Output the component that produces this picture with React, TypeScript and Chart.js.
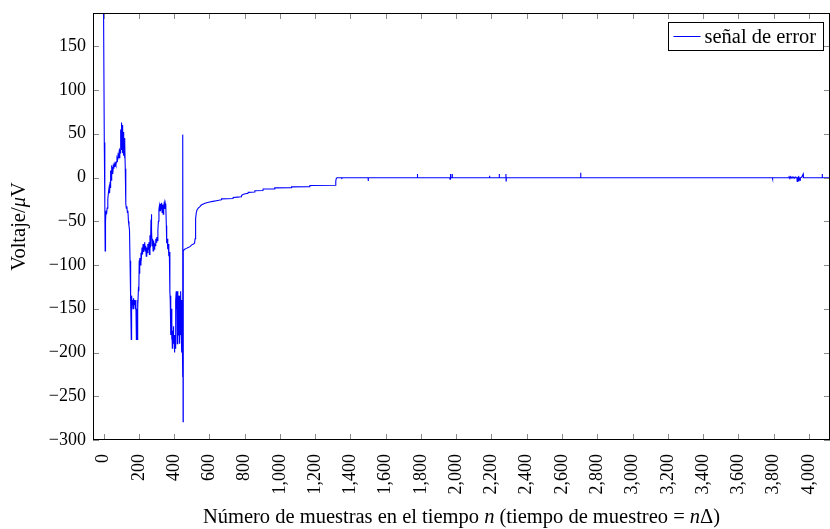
import { useEffect, useRef } from "react";
import { Chart, registerables } from "chart.js";

Chart.register(...registerables);

// Error signal: sample index n and voltage in µV
const sampleN = [
  0, 4, 7, 9, 11, 14, 17, 20, 24, 28, 31, 34, 37, 39, 41, 43, 45, 47, 49, 52,
  55, 58, 61, 64, 67, 70, 73, 76, 79, 82, 85, 88, 91, 93, 95, 97, 99, 101, 103, 105,
  107, 109, 111, 113, 115, 117, 119, 121, 123, 125, 127, 129, 132, 135, 138, 141, 144, 147, 149, 150,
  152, 155, 157, 159, 162, 164, 167, 170, 173, 176, 180, 183, 186, 188, 190, 192, 195, 198, 200, 202,
  204, 206, 209, 212, 215, 218, 221, 224, 227, 230, 233, 236, 239, 242, 245, 248, 251, 254, 257, 260,
  263, 266, 269, 271, 273, 275, 278, 281, 284, 287, 290, 293, 296, 299, 302, 305, 308, 311, 314, 317,
  320, 323, 326, 329, 332, 335, 338, 341, 344, 347, 350, 353, 356, 358, 361, 364, 367, 370, 373, 376,
  378, 380, 382, 384, 386, 388, 390, 392, 394, 396, 398, 400, 402, 404, 406, 408, 410, 412, 414, 416,
  418, 420, 422, 424, 426, 428, 430, 432, 434, 436, 438, 440, 442, 444, 446, 448, 449, 450, 451, 452,
  460, 470, 480, 490, 500, 510, 516, 519, 521, 523, 526, 530, 537, 545, 554, 575, 601, 620, 640, 668,
  669, 734, 735, 760, 781, 782, 790, 805, 819, 820, 857, 858, 904, 905, 970, 971, 1065, 1066, 1169, 1170,
  1314, 1317, 1320, 1324, 1350, 1351, 1352, 1500, 1501, 1502, 1779, 1780, 1781, 1964, 1965, 1966, 1968, 1969, 1976, 1977,
  1978, 2188, 2189, 2190, 2243, 2244, 2245, 2281, 2282, 2283, 2284, 2705, 2706, 2707, 3793, 3794, 3795, 3886, 3888, 3892,
  3896, 3900, 3905, 3910, 3915, 3920, 3925, 3932, 3934, 3936, 3940, 3943, 3945, 3950, 3952, 3960, 3968, 3969, 4075, 4076,
  4077, 4120,
];

const errorUV = [
  188, 40, -30, -84, -50, -38, -42, -35, -25, -16, -12, -18, -5, -12, 8, -3, 14, 2, 12, 4,
  13, 10, 15, 12, 16, 14, 18, 22, 20, 26, 24, 29, 22, 30, 28, 55, 32, 63, 35, 60,
  28, 58, 30, 52, 25, 45, 22, 40, 10, -5, -30, -35, -33, -40, -38, -50, -55, -60, -60, -95,
  -130, -140, -185, -135, -145, -140, -150, -138, -145, -140, -150, -140, -185, -150, -185, -140, -150, -125, -130, -95,
  -110, -92, -100, -86, -90, -80, -88, -76, -85, -80, -74, -84, -78, -90, -80, -86, -76, -82, -74, -88,
  -66, -80, -48, -42, -60, -78, -70, -84, -72, -82, -75, -78, -70, -74, -68, -72, -60, -50, -36, -32,
  -38, -30, -36, -29, -40, -31, -42, -33, -29, -36, -30, -34, -55, -75, -70, -82, -76, -90, -85, -130,
  -140, -135, -180, -150, -185, -165, -195, -175, -185, -170, -190, -180, -200, -182, -195, -175, -140, -130, -150, -135,
  -190, -140, -130, -180, -135, -155, -135, -190, -145, -180, -130, -170, -140, -200, -175, -228, -150, 49, -279, -84,
  -82, -81, -80, -79, -77, -76, -75, -70, -58, -47, -40, -37, -35, -33.5, -31.5, -29.5, -28, -27.3, -26.5, -25.5,
  -24.4, -24, -22.8, -22.4, -22, -20.5, -19.5, -18.6, -18, -17, -16.5, -15.2, -14.8, -13.2, -13, -11.9, -11.6, -10.7, -10.5, -9.2,
  -8.8, -4, -1, -0.3, -0.3, -1.8, -0.3, -0.3, -4, -0.3, -0.3, 4, -0.3, -0.3, -2, -0.3, 4, -0.3, -0.3, 4,
  -0.3, -0.3, 2, -0.3, -0.3, 4, -0.3, -0.3, 4, -4, -0.3, -0.3, 5.5, -0.3, -0.3, -1.5, -0.3, -0.3, 0.8, -0.5,
  1, -0.8, 0.8, -0.3, 0.5, -1, 0.5, -0.3, -4.5, -0.5, 0.5, -4.5, -0.3, -3, -0.3, 0.5, 4, -0.3, -0.3, 4,
  -0.3, -0.3,
];

const seriesLabel = "señal de error";
const xRange = [-60, 4120];
const yRange = [-300, 188];
const xTicks = [
  0, 200, 400, 600, 800, 1000, 1200, 1400, 1600, 1800, 2000,
  2200, 2400, 2600, 2800, 3000, 3200, 3400, 3600, 3800, 4000,
];
const yTicks = [-300, -250, -200, -150, -100, -50, 0, 50, 100, 150];

const SERIF = '"Liberation Serif", "Times New Roman", serif';
const TICK_SIZE = 18;
const TEXT_SIZE = 20.5;

type Part = [string, boolean];

// Draws a run of upright/italic pieces centred on (cx, baseline)
function drawRich(ctx: CanvasRenderingContext2D, parts: Part[], cx: number, baseline: number, size: number) {
  const font = (it: boolean) => `${it ? "italic " : ""}${size}px ${SERIF}`;
  let total = 0;
  for (const [s, it] of parts) {
    ctx.font = font(it);
    total += ctx.measureText(s).width;
  }
  let x = cx - total / 2;
  ctx.textAlign = "left";
  ctx.textBaseline = "alphabetic";
  for (const [s, it] of parts) {
    ctx.font = font(it);
    ctx.fillText(s, x, baseline);
    x += ctx.measureText(s).width;
  }
}

const xTitle: Part[] = [
  ["Número de muestras en el tiempo ", false],
  ["n", true],
  [" (tiempo de muestreo = ", false],
  ["n", true],
  ["Δ)", false],
];
const yTitle: Part[] = [
  ["Voltaje/", false],
  ["μ", true],
  ["V", false],
];

// Box frame with inward ticks on all sides, axis titles and the legend box
const decorPlugin = {
  id: "decor",
  afterDraw(chart: any) {
    const { ctx, chartArea: a, scales } = chart;
    const xs = scales.x;
    const ys = scales.y;
    ctx.save();

    ctx.lineWidth = 1;
    ctx.strokeStyle = "#8a8a8a";
    ctx.beginPath();
    for (const t of xs.ticks) {
      const px = Math.round(xs.getPixelForValue(t.value)) + 0.5;
      ctx.moveTo(px, a.bottom);
      ctx.lineTo(px, a.bottom - 6);
      ctx.moveTo(px, a.top);
      ctx.lineTo(px, a.top + 6);
    }
    for (const t of ys.ticks) {
      const py = Math.round(ys.getPixelForValue(t.value)) + 0.5;
      ctx.moveTo(a.left, py);
      ctx.lineTo(a.left + 6, py);
      ctx.moveTo(a.right, py);
      ctx.lineTo(a.right - 6, py);
    }
    ctx.stroke();

    ctx.strokeStyle = "#000";
    ctx.strokeRect(a.left + 0.5, a.top + 0.5, a.right - a.left - 1, a.bottom - a.top - 1);

    ctx.fillStyle = "#000";
    drawRich(ctx, xTitle, (a.left + a.right) / 2, 523, TEXT_SIZE);

    ctx.save();
    ctx.translate(25, (a.top + a.bottom) / 2);
    ctx.rotate(-Math.PI / 2);
    drawRich(ctx, yTitle, 0, 0, TEXT_SIZE);
    ctx.restore();

    // legend
    const ds = chart.data.datasets[0];
    const lx = 668.5;
    const ly = 22.5;
    const lw = 155;
    const lh = 28;
    ctx.fillStyle = "#fff";
    ctx.fillRect(lx, ly, lw, lh);
    ctx.strokeStyle = "#000";
    ctx.strokeRect(lx, ly, lw, lh);
    ctx.strokeStyle = ds.borderColor;
    ctx.lineWidth = 1;
    ctx.beginPath();
    ctx.moveTo(lx + 5, ly + 14);
    ctx.lineTo(lx + 32, ly + 14);
    ctx.stroke();
    ctx.fillStyle = "#000";
    ctx.font = `${TEXT_SIZE}px ${SERIF}`;
    ctx.textAlign = "left";
    ctx.textBaseline = "alphabetic";
    ctx.fillText(ds.label, lx + 36, ly + 20);

    ctx.restore();
  },
};

const fmtX = (v: number) => Number(v).toLocaleString("en-US");
const fmtY = (v: number) => (v < 0 ? "\u2212" + Math.abs(v) : String(v));

const zeroPadding = (s: any) => {
  s.paddingLeft = 0;
  s.paddingRight = 0;
  s.paddingTop = 0;
  s.paddingBottom = 0;
};

export default function App() {
  const ref = useRef<HTMLCanvasElement>(null);

  useEffect(() => {
    const canvas = ref.current;
    if (!canvas) return;
    const points = sampleN.map((n, i) => ({ x: n, y: errorUV[i] }));
    const chart = new Chart(canvas, {
      type: "line",
      data: {
        datasets: [
          {
            label: seriesLabel,
            data: points,
            borderColor: "#0000ff",
            borderWidth: 1.1,
            pointRadius: 0,
            tension: 0,
            fill: false,
          },
        ],
      },
      options: {
        responsive: false,
        animation: false,
        devicePixelRatio: 1,
        layout: { padding: { top: 13, left: 0, right: 0, bottom: 0 } },
        plugins: {
          legend: { display: false },
          tooltip: { enabled: false },
        },
        scales: {
          x: {
            type: "linear",
            min: xRange[0],
            max: xRange[1],
            afterBuildTicks: (s: any) => {
              s.ticks = xTicks.map((value) => ({ value }));
            },
            afterFit: (s: any) => {
              s.height = 89;
              zeroPadding(s);
            },
            grid: { display: false, drawTicks: false },
            border: { display: false },
            ticks: {
              autoSkip: false,
              minRotation: 90,
              maxRotation: 90,
              padding: 14,
              color: "#000",
              font: { family: SERIF, size: TICK_SIZE },
              callback: (v: any) => fmtX(v),
            },
          },
          y: {
            type: "linear",
            min: yRange[0],
            max: yRange[1],
            afterBuildTicks: (s: any) => {
              s.ticks = yTicks.map((value) => ({ value }));
            },
            afterFit: (s: any) => {
              s.width = 93;
              zeroPadding(s);
            },
            grid: { display: false, drawTicks: false },
            border: { display: false },
            ticks: {
              padding: 7,
              color: "#000",
              font: { family: SERIF, size: TICK_SIZE },
              callback: (v: any) => fmtY(v),
            },
          },
        },
      },
      plugins: [decorPlugin],
    });
    return () => chart.destroy();
  }, []);

  return (
    <canvas
      ref={ref}
      width={830}
      height={529}
      style={{ position: "fixed", left: 0, top: 0, width: 830, height: 529 }}
    />
  );
}
